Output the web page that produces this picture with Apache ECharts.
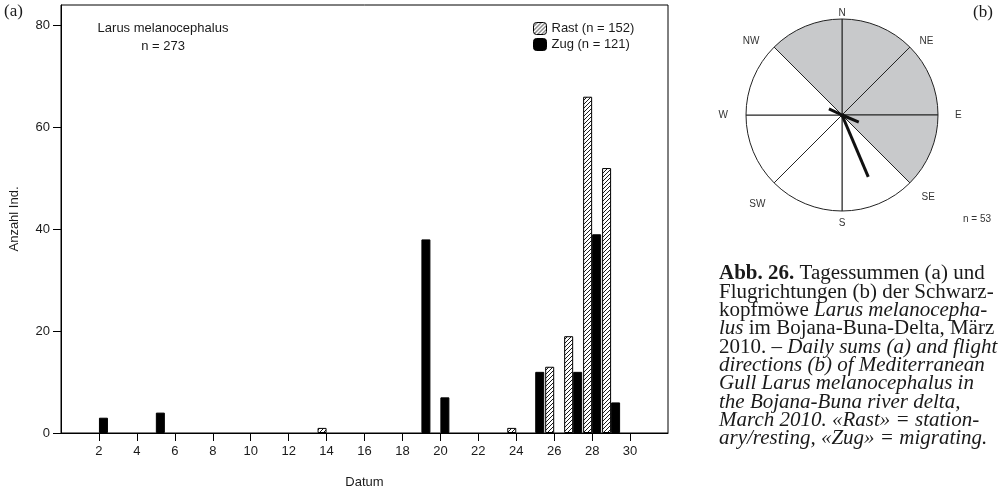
<!DOCTYPE html>
<html>
<head>
<meta charset="utf-8">
<script src="https://cdn.jsdelivr.net/npm/echarts@6/dist/echarts.min.js"></script>
<style>
html, body { margin: 0; padding: 0; background: #fff; }
#chart { width: 1004px; height: 494px; }
</style>
</head>
<body>
<div id="chart"></div>
<script>
(function() {
// ── (a) Tagessummen ──
const days = [2, 5, 14, 19, 20, 24, 25, 26, 27, 28, 29];
const rast = [0, 0, 1, 0, 0, 1, 0, 13, 19, 66, 52];
const zug  = [3, 4, 0, 38, 7, 0, 12, 0, 12, 39, 6];
const dayTicks = [2, 4, 6, 8, 10, 12, 14, 16, 18, 20, 22, 24, 26, 28, 30];
const countTicks = [0, 20, 40, 60, 80];

// ── (b) Flugrichtungen ──
const directions = ['N', 'NE', 'E', 'SE', 'S', 'SW', 'W', 'NW'];
const sectorShaded = [true, true, true, false, false, false, false, true]; // N-NE ... NW-N
const vecAngle  = [157, 113, 295];
const vecLength = [0.70, 0.19, 0.15];
const nFlights = 53;

const sum = a => a.reduce((s, v) => s + v, 0);
const pairs = vals => days.map((d, i) => [d, vals[i]]).filter(p => p[1] > 0);

// Schraffur für "Rast"
function hatch() {
  const c = document.createElement('canvas');
  c.width = 4; c.height = 4;
  const g = c.getContext('2d');
  g.fillStyle = '#fff'; g.fillRect(0, 0, 4, 4);
  g.strokeStyle = '#000'; g.lineWidth = 0.9;
  g.beginPath();
  g.moveTo(0, 4); g.lineTo(4, 0);
  g.moveTo(-1, 1); g.lineTo(1, -1);
  g.moveTo(3, 5); g.lineTo(5, 3);
  g.stroke();
  return c;
}

const sans = 'Liberation Sans';
const serif = 'Liberation Serif';
const txt = '#1a1a1a';

// Richtungsbeschriftung: kleine Verschiebungen je Label
const dirPad = {
  N: [0, 0, 0, 0], NE: [0, 0, 0, 9], E: [0, 0, 0, 16], SE: [9, 0, 0, 11],
  S: [6, 0, 0, 0], SW: [16, 8, 0, 0], W: [0, 17, 0, 0], NW: [0, 14, 0, 0]
};
const dirRich = {};
directions.forEach(d => {
  dirRich[d] = { fontSize: 10, fontFamily: sans, color: '#333', padding: dirPad[d] };
});

const captionLines = [
  '{b|Abb. 26.} Tagessummen (a) und',
  'Flugrichtungen (b) der Schwarz-',
  'kopfmöwe {i|Larus melanocepha-}',
  '{i|lus} im Bojana-Buna-Delta, März',
  '2010. {i|– Daily sums (a) and flight}',
  '{i|directions (b) of Mediterranean}',
  '{i|Gull Larus melanocephalus in}',
  '{i|the Bojana-Buna river delta,}',
  '{i|March 2010. «Rast» = station-}',
  '{i|ary/resting, «Zug» = migrating.}'
];
const capSize = 20, capLH = 18.3;

const rastName = 'Rast (n = ' + sum(rast) + ')';
const zugName = 'Zug (n = ' + sum(zug) + ')';

const chart = echarts.init(document.getElementById('chart'));
chart.setOption({
  animation: false,
  grid: { left: 61, right: 336, top: 5, bottom: 60, show: true, borderColor: '#000', borderWidth: 1 },
  legend: {
    data: [rastName, zugName],
    left: 533, top: 22, orient: 'vertical', padding: 0,
    itemWidth: 13, itemHeight: 12, itemGap: 3, itemStyle: { borderColor: '#000', borderWidth: 1 },
    textStyle: { fontFamily: sans, fontSize: 13, color: txt },
    selectedMode: false
  },
  xAxis: {
    type: 'value', min: 0, max: 32,
    name: 'Datum', nameLocation: 'middle', nameGap: 43,
    nameTextStyle: { fontFamily: sans, fontSize: 13, color: txt },
    axisLine: { show: true, lineStyle: { color: '#000', width: 1 } },
    axisTick: { show: true, length: 8, lineStyle: { color: '#000' }, customValues: dayTicks },
    axisLabel: { margin: 12, fontFamily: sans, fontSize: 13, color: txt, customValues: dayTicks },
    splitLine: { show: false }
  },
  yAxis: {
    type: 'value', min: 0, max: 84,
    name: 'Anzahl Ind.', nameLocation: 'middle', nameGap: 40,
    nameTextStyle: { fontFamily: sans, fontSize: 13, color: txt },
    axisLine: { show: true, lineStyle: { color: '#000', width: 1 } },
    axisTick: { show: true, length: 8, lineStyle: { color: '#000' }, customValues: countTicks },
    axisLabel: { margin: 11, fontFamily: sans, fontSize: 13, color: txt, customValues: countTicks },
    splitLine: { show: false }
  },
  polar: { center: [842, 115], radius: 96 },
  angleAxis: {
    type: 'value', min: 0, max: 360, interval: 45, startAngle: 90, clockwise: true,
    axisLine: { show: false }, axisTick: { show: false }, splitLine: { show: false },
    axisLabel: {
      margin: 1,
      formatter: v => v >= 360 ? '' : '{' + directions[v / 45] + '|' + directions[v / 45] + '}',
      rich: dirRich
    }
  },
  radiusAxis: { type: 'value', min: 0, max: 1, show: false },
  series: [
    {
      name: rastName, type: 'bar', barWidth: 9, barGap: '0%',
      data: pairs(rast),
      itemStyle: { color: { image: hatch(), repeat: 'repeat' }, borderColor: '#000', borderWidth: 1 },
      emphasis: { disabled: true }
    },
    {
      name: zugName, type: 'bar', barWidth: 9, barGap: '0%',
      data: pairs(zug),
      itemStyle: { color: '#000', borderColor: '#000', borderWidth: 1 },
      emphasis: { disabled: true }
    },
    {
      type: 'pie', center: [842, 115], radius: 96, startAngle: 90, clockwise: true,
      silent: true, label: { show: false }, labelLine: { show: false },
      data: directions.map((d, i) => ({
        name: d + '-' + directions[(i + 1) % 8], value: 1,
        itemStyle: { color: sectorShaded[i] ? '#c8c9cb' : '#fff' }
      })),
      itemStyle: { borderColor: '#222', borderWidth: 1 }
    },
    ...vecAngle.map((a, i) => ({
      type: 'line', coordinateSystem: 'polar', z: 5, silent: true,
      showSymbol: false, symbol: 'none',
      data: [[0, a], [vecLength[i], a]],
      lineStyle: { color: '#111', width: 3, cap: 'butt' }
    }))
  ],
  graphic: [
    { type: 'text', x: 4, y: 3, style: { text: '(a)', fontFamily: serif, fontSize: 17, fill: txt } },
    { type: 'text', x: 973, y: 4, style: { text: '(b)', fontFamily: serif, fontSize: 17, fill: txt } },
    { type: 'text', x: 163, y: 19, style: {
        text: 'Larus melanocephalus\nn = ' + (sum(rast) + sum(zug)),
        fontFamily: sans, fontSize: 13, lineHeight: 18, fill: txt, align: 'center' } },
    { type: 'text', x: 963, y: 214, style: { text: 'n = ' + nFlights, fontFamily: sans, fontSize: 10, fill: '#333' } },
    { type: 'text', x: 719, y: 265, scaleX: 1.05, style: {
        text: captionLines.join('\n'),
        fontFamily: serif, fontSize: capSize, lineHeight: capLH, fill: txt,
        rich: {
          b: { fontFamily: serif, fontSize: capSize, lineHeight: capLH, fontWeight: 'bold', fill: txt },
          i: { fontFamily: serif, fontSize: capSize, lineHeight: capLH, fontStyle: 'italic', fill: txt }
        } } }
  ]
});
})();
</script>
</body>
</html>
